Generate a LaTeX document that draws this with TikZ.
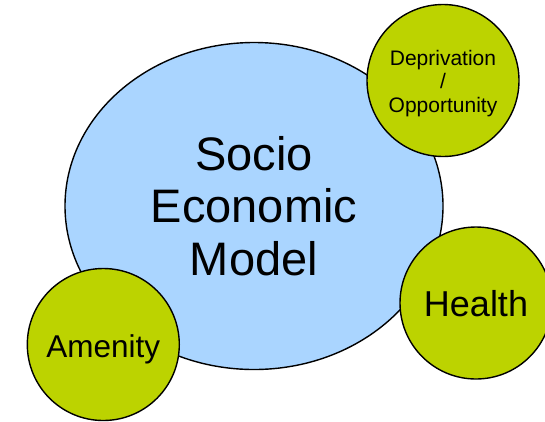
\documentclass[tikz,border=0pt]{standalone}
\usepackage{fontspec}
\setmainfont{Liberation Sans}
\usetikzlibrary{shapes.geometric}
\definecolor{bigblue}{HTML}{AAD5FF}
\definecolor{limegreen}{HTML}{BCD300}
\tikzset{
  bigell/.style={ellipse, draw=black, line width=1.4pt, fill=bigblue, inner sep=0pt,
    minimum width=378pt, minimum height=327pt, align=center},
  greencirc/.style={circle, draw=black, line width=1.4pt, fill=limegreen, inner sep=0pt,
    minimum size=152pt, align=center}
}
\begin{document}
\begin{tikzpicture}[x=1pt,y=-1pt]
\useasboundingbox (0,0) rectangle (545,421);
\clip (0,0) rectangle (545,421);
\node[bigell, font=\fontsize{47}{52.3}\selectfont] (sem) at (254,206) {Socio\\Economic\\Model};
\node[greencirc, font=\fontsize{21}{23.8}\selectfont] (dep) at (443,80.5) {\rule{0pt}{21pt}Deprivation\\/\\Opportunity};
\node[greencirc, font=\fontsize{36}{40}\selectfont] (health) at (476,303) {\rule{0pt}{28pt}Health};
\node[greencirc, font=\fontsize{31.5}{36}\selectfont] (amen) at (103.3,344.5) {\rule{0pt}{32pt}Amenity};
\end{tikzpicture}
\end{document}
